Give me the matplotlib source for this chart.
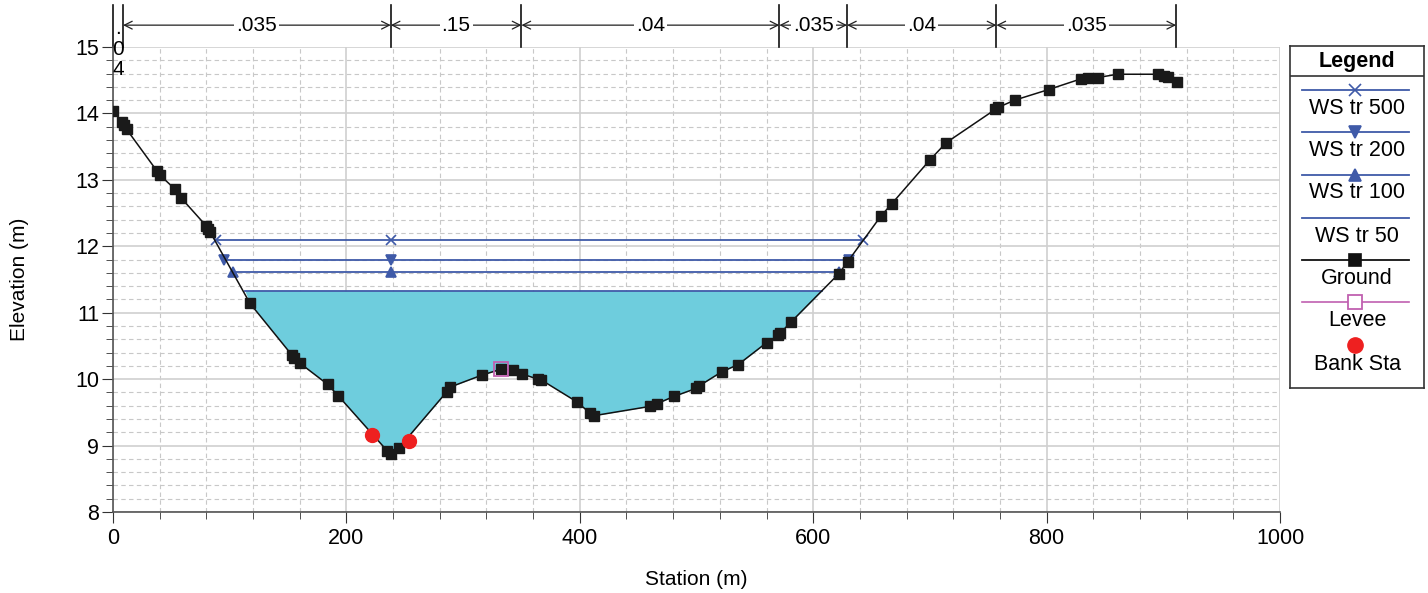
import matplotlib.pyplot as plt
import numpy as np

plt.rcParams['font.family'] = ['Liberation Sans', 'DejaVu Sans']

# ground profile (station m, elevation m)
ground_x = [0, 7.5, 9, 11.7, 37.4, 40.3, 53.1, 58.3, 79.7, 81.4, 83.1, 117.4,
            153.4, 155.4, 160.2, 184, 193, 235, 238, 245.3, 286, 288.8, 316,
            332.5, 342.8, 350.2, 364, 366.8, 397.3, 408.7, 412.2, 460.2, 466,
            480.7, 499.6, 502.4, 521.6, 535.8, 560.1, 570.1, 571.6, 581, 622.1,
            629.6, 657.8, 667.3, 700, 714, 756, 758.4, 772.7, 801.8, 829.4,
            835.4, 843.7, 860.9, 895.2, 900.6, 903.8, 911.8]
ground_y = [14.04, 13.87, 13.83, 13.76, 13.14, 13.07, 12.86, 12.73, 12.31, 12.26,
            12.22, 11.14, 10.36, 10.32, 10.24, 9.92, 9.75, 8.92, 8.87, 8.97, 9.81,
            9.88, 10.06, 10.15, 10.14, 10.08, 10.00, 9.99, 9.66, 9.49, 9.45, 9.59,
            9.63, 9.74, 9.86, 9.90, 10.11, 10.22, 10.55, 10.66, 10.69, 10.86,
            11.59, 11.77, 12.45, 12.64, 13.30, 13.56, 14.06, 14.09, 14.20, 14.36,
            14.52, 14.53, 14.54, 14.59, 14.59, 14.57, 14.55, 14.47]

# water surfaces: elevation, left / mid / right stations
ws_names = ['WS tr 500', 'WS tr 200', 'WS tr 100', 'WS tr 50']
ws_elev = [12.095, 11.79, 11.61, 11.33]
ws_left = [88, 95, 103, 113]
ws_right = [643, 631, 622, 607.5]
ws_mid = 238
ws_markers = ['x', 'v', '^', None]

bank_x = [222, 254]
bank_y = [9.16, 9.07]
levee_x = [332.5]
levee_y = [10.15]

# manning's n regions
n_bounds = [0, 8.6, 238, 350, 571, 629, 757, 911]
n_values = ['.04', '.035', '.15', '.04', '.035', '.04', '.035']

blue = '#3f5aa8'
fill_c = '#6ecddd'
lev_c = '#c060b0'

fig = plt.figure(figsize=(14.28, 5.93), dpi=100)
ax = fig.add_axes([113/1428, 81/593, 1167/1428, 465/593])
ax.set_xlim(0, 1000)
ax.set_ylim(8, 15)

ax.set_xticks(np.arange(0, 1001, 200))
ax.set_xticks(np.arange(0, 1001, 40), minor=True)
ax.set_yticks(np.arange(8, 15.1, 1))
ax.set_yticks(np.arange(8, 15.01, 0.2), minor=True)
ax.grid(which='major', color='#d0d0d0', lw=1.2)
ax.grid(which='minor', color='#c8c8c8', lw=0.8, ls=(0, (4, 3)))
ax.set_axisbelow(True)
ax.tick_params(which='major', direction='out', length=8, color='#333333', labelsize=15.5)
ax.tick_params(axis='y', which='major', pad=2)
ax.tick_params(which='minor', direction='out', length=5, color='#333333')
for s in ['top', 'right']:
    ax.spines[s].set_visible(False)
for s in ['left', 'bottom']:
    ax.spines[s].set_color('#555555')
    ax.spines[s].set_linewidth(1.2)
ax.set_xlabel('Station (m)', fontsize=15)
ax.set_ylabel('Elevation (m)', fontsize=15)
ax.xaxis.set_label_coords(0.5, -0.124)
ax.yaxis.set_label_coords(-0.072, 0.5)

gx = np.array(ground_x)
gy = np.array(ground_y)
ws50 = ws_elev[3]
inside = (gx >= ws_left[3]) & (gx <= ws_right[3])
fx = np.concatenate([[ws_left[3]], gx[inside], [ws_right[3]]])
fy = np.concatenate([[ws50], gy[inside], [ws50]])
ax.fill_between(fx, fy, ws50, color=fill_c, lw=0, zorder=2)

for name, e, l, r, m in zip(ws_names, ws_elev, ws_left, ws_right, ws_markers):
    ax.plot([l, ws_mid, r], [e, e, e], color=blue, lw=1.3, marker=m,
            ms=7, mew=1.2, zorder=3)

ax.plot(ground_x, ground_y, color='#111111', lw=1.1, marker='s', ms=6.8,
        mfc='#1a1a1a', mec='#1a1a1a', zorder=4)
ax.plot(levee_x, levee_y, ls='none', marker='s', ms=10, mfc='none', mec=lev_c,
        mew=1.3, zorder=5)
ax.plot(bank_x, bank_y, ls='none', marker='o', ms=10, color='#ee2020', zorder=6)

# manning's n annotation above plot
for b in n_bounds:
    ax.plot([b, b], [1.0, 1.09], color='#111111', lw=1.2,
            transform=ax.get_xaxis_transform(), clip_on=False)
yarr = 1.047
for i, v in enumerate(n_values):
    a, b = n_bounds[i], n_bounds[i + 1]
    if i == 0:
        ax.text((a + b) / 2, 0.995, '.\n0\n4', ha='center', va='center', fontsize=15,
                linespacing=1.1, transform=ax.get_xaxis_transform())
        continue
    ax.annotate('', xy=(a, yarr), xytext=(b, yarr), xycoords=ax.get_xaxis_transform(),
                arrowprops=dict(arrowstyle='<->', color='#222222', lw=0.9,
                                shrinkA=0, shrinkB=0, mutation_scale=14))
    ax.text((a + b) / 2, yarr, v, ha='center', va='center', fontsize=15,
            transform=ax.get_xaxis_transform(),
            bbox=dict(facecolor='white', edgecolor='none', pad=1.5))

# legend box drawn in pixel coordinates
lg = fig.add_axes([1290/1428, (593-388)/593, 134/1428, 342/593])
lg.set_xlim(1290, 1424)
lg.set_ylim(388, 46)
lg.set_xticks([])
lg.set_yticks([])
for s in lg.spines.values():
    s.set_color('#333333')
    s.set_linewidth(1.2)
lg.text(1357, 61, 'Legend', ha='center', va='center', fontsize=15.5, fontweight='bold')
lg.plot([1290, 1424], [76, 76], color='#333333', lw=1.2)
leg_items = [
    ('WS tr 500', blue, 'x', 90),
    ('WS tr 200', blue, 'v', 132),
    ('WS tr 100', blue, '^', 175),
    ('WS tr 50', blue, None, 218),
    ('Ground', '#111111', 's', 260),
    ('Levee', lev_c, 's', 302),
]
for label, c, m, yy in leg_items:
    if label == 'Levee':
        lg.plot([1302, 1409], [yy, yy], color=c, lw=1.2)
        lg.plot([1355], [yy], ls='none', marker='s', ms=10, mfc='white', mec=c, mew=1.3)
    else:
        lg.plot([1302, 1409], [yy, yy], color=c, lw=1.3)
        if m:
            lg.plot([1355], [yy], ls='none', marker=m, ms=8, color=c, mew=1.2)
    lg.text(1357, yy + 18, label, ha='center', va='center', fontsize=15.5)
lg.plot([1355], [345], ls='none', marker='o', ms=11, color='#ee2020')
lg.text(1357, 364, 'Bank Sta', ha='center', va='center', fontsize=15.5)

fig.savefig('out.png', dpi=100)
